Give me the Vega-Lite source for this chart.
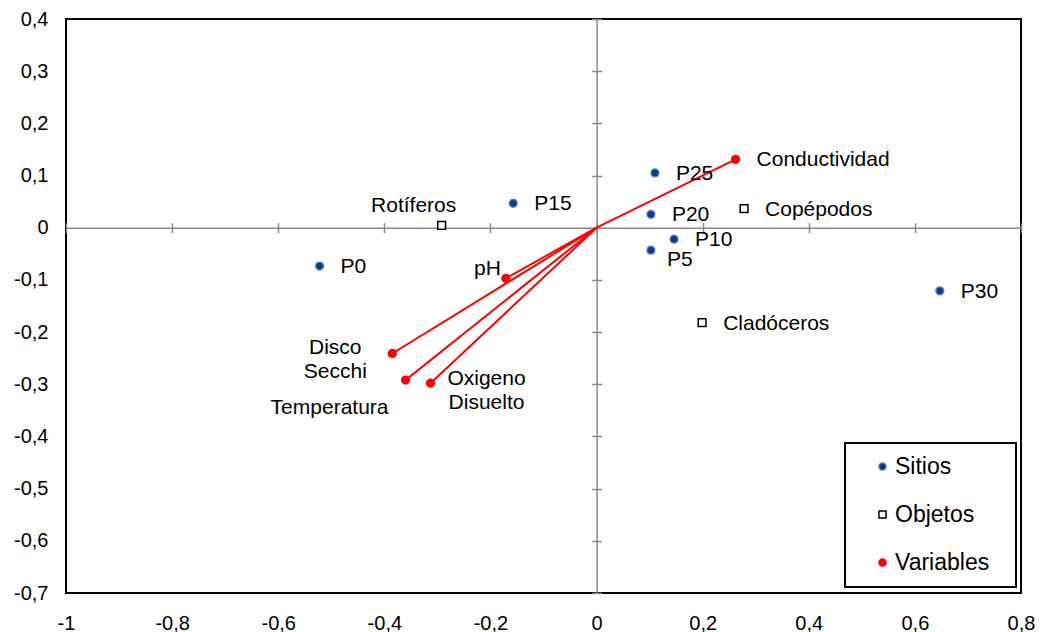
{
  "$schema": "https://vega.github.io/schema/vega-lite/v6.json",
  "width": 955,
  "height": 574,
  "autosize": "none",
  "padding": {"left": 66, "top": 19, "right": 19, "bottom": 39},
  "background": "white",
  "config": {
    "view": {"stroke": "black", "strokeWidth": 2},
    "font": "Liberation Sans",
    "legend": {
      "orient": "none",
      "legendX": 779,
      "legendY": 424,
      "strokeColor": "black",
      "strokeWidth": 2,
      "fillColor": "white",
      "padding": 12,
      "labelFontSize": 23,
      "labelFont": "Liberation Sans",
      "labelColor": "black",
      "symbolSize": 50,
      "symbolStrokeWidth": 1.5,
      "rowPadding": 24,
      "labelOffset": 1,
      "symbolOffset": 14,
      "labelLimit": 300,
      "titleOrient": "right",
      "titleOpacity": 0,
      "titleFontSize": 12,
      "titlePadding": 8
    }
  },
  "data": {
    "values": [
      {"group": "Sitios", "label": "P0", "x": -0.522, "y": -0.0735},
      {"group": "Sitios", "label": "P15", "x": -0.157, "y": 0.0468},
      {"group": "Sitios", "label": "P25", "x": 0.11, "y": 0.105},
      {"group": "Sitios", "label": "P20", "x": 0.1025, "y": 0.0257},
      {"group": "Sitios", "label": "P10", "x": 0.146, "y": -0.022},
      {"group": "Sitios", "label": "P5", "x": 0.1025, "y": -0.043},
      {"group": "Sitios", "label": "P30", "x": 0.647, "y": -0.121},
      {"group": "Objetos", "label": "Rotíferos", "x": -0.292, "y": 0.0046},
      {"group": "Objetos", "label": "Copépodos", "x": 0.278, "y": 0.0364},
      {"group": "Objetos", "label": "Cladóceros", "x": 0.199, "y": -0.182},
      {"group": "Variables", "label": "Conductividad", "x": 0.262, "y": 0.131},
      {"group": "Variables", "label": "pH", "x": -0.171, "y": -0.097},
      {"group": "Variables", "label": "Disco\nSecchi", "x": -0.385, "y": -0.241},
      {"group": "Variables", "label": "Temperatura", "x": -0.36, "y": -0.292},
      {"group": "Variables", "label": "Oxigeno\nDisuelto", "x": -0.313, "y": -0.298}
    ]
  },
  "resolve": {"axis": {"x": "independent", "y": "independent"}},
  "layer": [
    {
      "transform": [{"filter": "datum.group === 'Variables'"}],
      "mark": {"type": "rule", "color": "#ff0000", "strokeWidth": 2},
      "encoding": {
        "x": {
          "field": "x", "type": "quantitative",
          "scale": {"domain": [-1, 0.8], "nice": false, "zero": false},
          "axis": {
            "orient": "bottom", "title": null, "grid": false, "domain": false,
            "ticks": false, "tickSize": 0, "labelPadding": 20, "labelFontSize": 20,
            "labelFont": "Liberation Sans", "labelColor": "black", "labelFlush": false,
            "labelOverlap": false,
            "values": [-1, -0.8, -0.6, -0.4, -0.2, 0, 0.2, 0.4, 0.6, 0.8],
            "labelExpr": "replace('' + round(datum.value * 10) / 10, '.', ',')"
          }
        },
        "y": {
          "field": "y", "type": "quantitative",
          "scale": {"domain": [-0.7, 0.4], "nice": false, "zero": false},
          "axis": {
            "orient": "left", "title": null, "grid": false, "domain": false,
            "ticks": false, "tickSize": 0, "labelPadding": 18, "labelFontSize": 20,
            "labelFont": "Liberation Sans", "labelColor": "black", "labelFlush": false,
            "labelOverlap": false,
            "values": [-0.7, -0.6, -0.5, -0.4, -0.3, -0.2, -0.1, 0, 0.1, 0.2, 0.3, 0.4],
            "labelExpr": "replace('' + round(datum.value * 10) / 10, '.', ',')"
          }
        },
        "x2": {"datum": 0},
        "y2": {"datum": 0}
      }
    },
    {
      "mark": {"type": "point", "opacity": 1, "strokeWidth": 1.5, "size": 60},
      "encoding": {
        "x": {
          "field": "x", "type": "quantitative",
          "axis": {
            "orient": "bottom", "offset": -365.3, "title": null, "grid": false,
            "labels": false, "domain": true, "domainColor": "#8a8a8a", "domainWidth": 1.5,
            "ticks": true, "tickColor": "#8a8a8a", "tickWidth": 1.5, "tickSize": 5,
            "values": [-1, -0.8, -0.6, -0.4, -0.2, 0, 0.2, 0.4, 0.6, 0.8]
          }
        },
        "y": {
          "field": "y", "type": "quantitative",
          "axis": {
            "orient": "left", "offset": -530.6, "title": null, "grid": false,
            "labels": false, "domain": true, "domainColor": "#8a8a8a", "domainWidth": 1.5,
            "ticks": true, "tickColor": "#8a8a8a", "tickWidth": 1.5, "tickSize": 5,
            "values": [-0.7, -0.6, -0.5, -0.4, -0.3, -0.2, -0.1, 0, 0.1, 0.2, 0.3, 0.4]
          }
        },
        "fill": {
          "field": "group", "type": "nominal", "legend": {"title": "ii"},
          "scale": {"domain": ["Sitios", "Objetos", "Variables"], "range": ["#0c3a86", "#ffffff", "#ff0000"]}
        },
        "stroke": {
          "field": "group", "type": "nominal", "legend": {"title": "ii"},
          "scale": {"domain": ["Sitios", "Objetos", "Variables"], "range": ["#4a7cc4", "#000000", "#ff0000"]}
        },
        "shape": {
          "field": "group", "type": "nominal", "legend": {"title": "ii"},
          "scale": {"domain": ["Sitios", "Objetos", "Variables"], "range": ["circle", "square", "circle"]}
        }
      }
    },
    {
      "transform": [{"filter": {"field": "label", "oneOf": ["P0", "P15", "P25", "P20", "P10", "P30", "Copépodos", "Cladóceros", "Conductividad"]}}],
      "mark": {"type": "text", "align": "left", "baseline": "middle", "dx": 21, "dy": 1, "fontSize": 21, "font": "Liberation Sans", "color": "black"},
      "encoding": {
        "x": {
          "field": "x", "type": "quantitative",
          "axis": {
            "orient": "top", "offset": -208.7, "title": null, "grid": false,
            "labels": false, "domain": false,
            "ticks": true, "tickColor": "#8a8a8a", "tickWidth": 1.5, "tickSize": 5,
            "values": [-1, -0.8, -0.6, -0.4, -0.2, 0, 0.2, 0.4, 0.6, 0.8]
          }
        },
        "y": {
          "field": "y", "type": "quantitative",
          "axis": {
            "orient": "right", "offset": -424.4, "title": null, "grid": false,
            "labels": false, "domain": false,
            "ticks": true, "tickColor": "#8a8a8a", "tickWidth": 1.5, "tickSize": 5,
            "values": [-0.7, -0.6, -0.5, -0.4, -0.3, -0.2, -0.1, 0, 0.1, 0.2, 0.3, 0.4]
          }
        },
        "text": {"field": "label"}
      }
    },
    {
      "transform": [{"filter": "datum.label === 'P5'"}],
      "mark": {"type": "text", "align": "left", "baseline": "middle", "dx": 16, "dy": 10, "fontSize": 21, "font": "Liberation Sans", "color": "black"},
      "encoding": {
        "x": {"field": "x", "type": "quantitative", "axis": null},
        "y": {"field": "y", "type": "quantitative", "axis": null},
        "text": {"field": "label"}
      }
    },
    {
      "transform": [{"filter": "datum.label === 'Rotíferos'"}],
      "mark": {"type": "text", "align": "center", "baseline": "middle", "dx": -28, "dy": -19, "fontSize": 21, "font": "Liberation Sans", "color": "black"},
      "encoding": {
        "x": {"field": "x", "type": "quantitative", "axis": null},
        "y": {"field": "y", "type": "quantitative", "axis": null},
        "text": {"field": "label"}
      }
    },
    {
      "transform": [{"filter": "datum.label === 'pH'"}],
      "mark": {"type": "text", "align": "right", "baseline": "middle", "dx": -5, "dy": -9, "fontSize": 21, "font": "Liberation Sans", "color": "black"},
      "encoding": {
        "x": {"field": "x", "type": "quantitative", "axis": null},
        "y": {"field": "y", "type": "quantitative", "axis": null},
        "text": {"field": "label"}
      }
    },
    {
      "transform": [{"filter": "datum.label === 'Disco\\nSecchi'"}],
      "mark": {"type": "text", "align": "center", "baseline": "middle", "dx": -57, "dy": -5, "fontSize": 21, "lineHeight": 23.5, "lineBreak": "\n", "font": "Liberation Sans", "color": "black"},
      "encoding": {
        "x": {"field": "x", "type": "quantitative", "axis": null},
        "y": {"field": "y", "type": "quantitative", "axis": null},
        "text": {"field": "label"}
      }
    },
    {
      "transform": [{"filter": "datum.label === 'Temperatura'"}],
      "mark": {"type": "text", "align": "center", "baseline": "middle", "dx": -76, "dy": 28, "fontSize": 21, "font": "Liberation Sans", "color": "black"},
      "encoding": {
        "x": {"field": "x", "type": "quantitative", "axis": null},
        "y": {"field": "y", "type": "quantitative", "axis": null},
        "text": {"field": "label"}
      }
    },
    {
      "transform": [{"filter": "datum.label === 'Oxigeno\\nDisuelto'"}],
      "mark": {"type": "text", "align": "center", "baseline": "middle", "dx": 56, "dy": -4, "fontSize": 21, "lineHeight": 23.5, "lineBreak": "\n", "font": "Liberation Sans", "color": "black"},
      "encoding": {
        "x": {"field": "x", "type": "quantitative", "axis": null},
        "y": {"field": "y", "type": "quantitative", "axis": null},
        "text": {"field": "label"}
      }
    }
  ]
}
